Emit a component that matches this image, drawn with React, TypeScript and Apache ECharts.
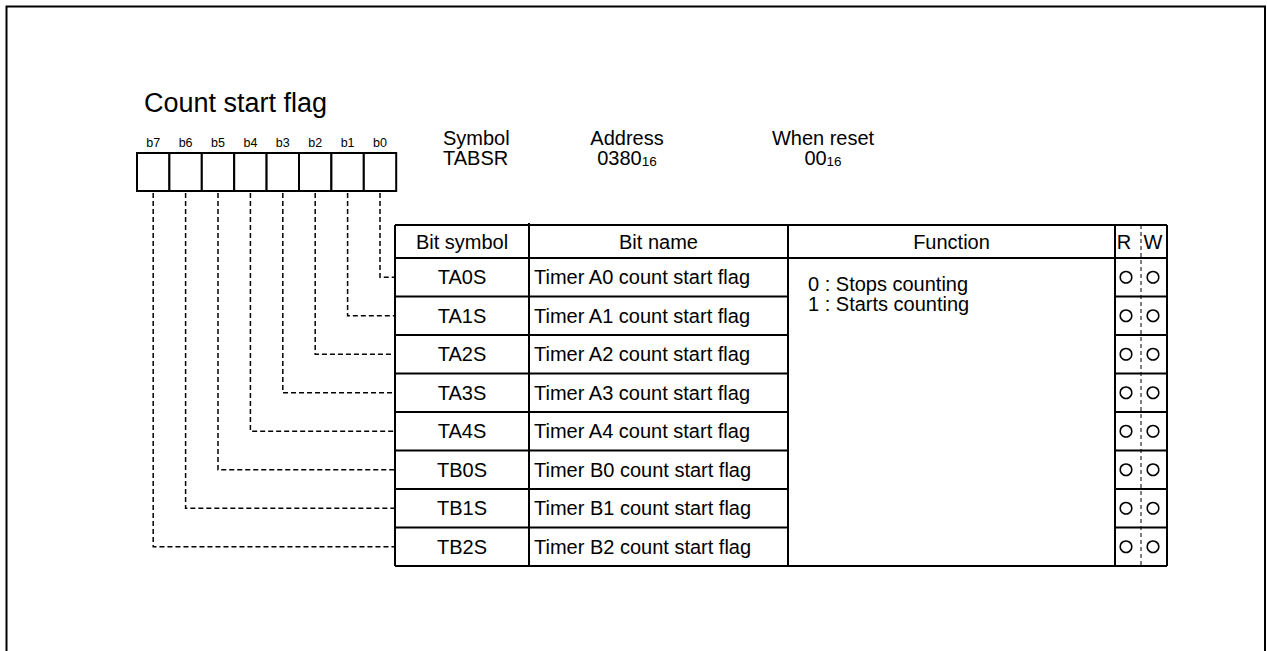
import React, { useEffect, useRef } from "react";
import * as echarts from "echarts";

const title = "Count start flag";
const bitLabels = ["b7", "b6", "b5", "b4", "b3", "b2", "b1", "b0"];
const headerCols = ["Bit symbol", "Bit name", "Function", "R", "W"];
const bitSymbols = ["TA0S", "TA1S", "TA2S", "TA3S", "TA4S", "TB0S", "TB1S", "TB2S"];
const bitNames = [
  "Timer A0 count start flag",
  "Timer A1 count start flag",
  "Timer A2 count start flag",
  "Timer A3 count start flag",
  "Timer A4 count start flag",
  "Timer B0 count start flag",
  "Timer B1 count start flag",
  "Timer B2 count start flag",
];
const functionLines = ["0 : Stops counting", "1 : Starts counting"];
const readable = [true, true, true, true, true, true, true, true];
const writable = [true, true, true, true, true, true, true, true];
const infoSymbol = ["Symbol", "TABSR"];
const infoAddress = ["Address", "0380", "16"];
const infoReset = ["When reset", "00", "16"];

const FONT = "'Liberation Sans', Arial, Helvetica, sans-serif";

function buildGraphics() {
  const els: any[] = [];
  const black = "#000";
  const FS = 20;
  const txt = (x: number, y: number, text: string, size: number, align = "left", vAlign = "middle", lh?: number, rich?: any) => ({
    type: "text",
    x,
    y,
    style: {
      text,
      fontSize: size,
      fontFamily: FONT,
      fill: black,
      align,
      verticalAlign: vAlign,
      lineHeight: lh ?? Math.round(size * 1.1),
      rich,
    },
  });
  const line = (x1: number, y1: number, x2: number, y2: number, lw = 2, dash?: number[]) => ({
    type: "line",
    shape: { x1, y1, x2, y2 },
    style: { stroke: black, lineWidth: lw, lineDash: dash, fill: null },
  });

  // outer frame
  els.push({ type: "rect", shape: { x: 6.5, y: 6.5, width: 1258.5, height: 700 }, style: { fill: "#fff", stroke: black, lineWidth: 2 } });

  // title
  els.push(txt(144, 103, title, 27));

  // register boxes
  const bx0 = 137, by = 153, bw = 32.4, bh = 38;
  bitLabels.forEach((lb, i) => {
    els.push(txt(bx0 + (i + 0.5) * bw, 143, lb, 12.5, "center"));
    els.push({ type: "rect", shape: { x: bx0 + i * bw, y: by, width: bw, height: bh }, style: { fill: "#fff", stroke: black, lineWidth: 2 } });
  });

  // info texts (two-line blocks)
  const subRich = {
    m: { fontSize: FS, fontFamily: FONT, fill: black, lineHeight: 20 },
    s: { fontSize: 13.5, fontFamily: FONT, fill: black, verticalAlign: "bottom", lineHeight: 20 },
  };
  els.push(txt(443, 148, infoSymbol.join("\n"), FS, "left", "middle", 20));
  els.push(
    txt(627, 148, `{m|${infoAddress[0]}}\n{m|${infoAddress[1]}}{s|${infoAddress[2]}}`, FS, "center", "middle", 20, subRich)
  );
  els.push(
    txt(823, 148, `{m|${infoReset[0]}}\n{m|${infoReset[1]}}{s|${infoReset[2]}}`, FS, "center", "middle", 20, subRich)
  );

  // table
  const cols = [395, 529, 788, 1115, 1141, 1167];
  const top = 225, hb = 258, rh = 38.5;
  const nRows = bitSymbols.length;
  const bottom = hb + nRows * rh;

  // header texts
  const hy = (top + hb) / 2;
  els.push(txt((cols[0] + cols[1]) / 2, hy, headerCols[0], FS, "center"));
  els.push(txt((cols[1] + cols[2]) / 2, hy, headerCols[1], FS, "center"));
  els.push(txt((cols[2] + cols[3]) / 2, hy, headerCols[2], FS, "center"));
  els.push(txt(1124, hy, headerCols[3], FS, "center"));
  els.push(txt(1153, hy, headerCols[4], FS, "center"));

  // rows
  bitSymbols.forEach((s, i) => {
    const yc = hb + (i + 0.5) * rh;
    els.push(txt((cols[0] + cols[1]) / 2, yc, s, FS, "center"));
    els.push(txt(cols[1] + 5, yc, bitNames[i], FS, "left"));
    if (readable[i]) els.push({ type: "circle", shape: { cx: 1126, cy: yc, r: 5.8 }, style: { fill: "none", stroke: black, lineWidth: 1.5 } });
    if (writable[i]) els.push({ type: "circle", shape: { cx: 1153, cy: yc, r: 5.8 }, style: { fill: "none", stroke: black, lineWidth: 1.5 } });
    // connectors
    const bx = bx0 + (7 - i + 0.5) * bw;
    els.push({
      type: "polyline",
      shape: { points: [[bx, by + bh + 2], [bx, yc], [cols[0], yc]] },
      style: { stroke: black, lineWidth: 1.5, lineDash: [5, 3], fill: null },
    });
  });

  // function text
  els.push(txt(808, 293.5, functionLines.join("\n"), FS, "left", "middle", 20));

  // table lines
  els.push(line(cols[0], top, cols[5], top));
  els.push(line(cols[0], hb, cols[5], hb));
  for (let i = 1; i <= nRows; i++) {
    const y = hb + i * rh;
    els.push(line(cols[0], y, cols[2], y));
    els.push(line(cols[3], y, cols[5], y));
  }
  els.push(line(cols[2], bottom, cols[3], bottom));
  [0, 2, 3, 5].forEach((c) => els.push(line(cols[c], top, cols[c], bottom)));
  els.push(line(cols[1], top - 2, cols[1], bottom));
  els.push(line(cols[4], top, cols[4], bottom, 1, [4, 3]));

  return els;
}

export default function App() {
  const ref = useRef<HTMLDivElement>(null);
  useEffect(() => {
    if (!ref.current) return;
    const chart = echarts.init(ref.current, null, { renderer: "svg" });
    chart.setOption({
      animation: false,
      backgroundColor: "#fff",
      graphic: { elements: buildGraphics() },
    });
    return () => chart.dispose();
  }, []);
  return (
    <div
      ref={ref}
      style={{ position: "fixed", left: 0, top: 0, width: 1267, height: 651, background: "#fff" }}
    />
  );
}
